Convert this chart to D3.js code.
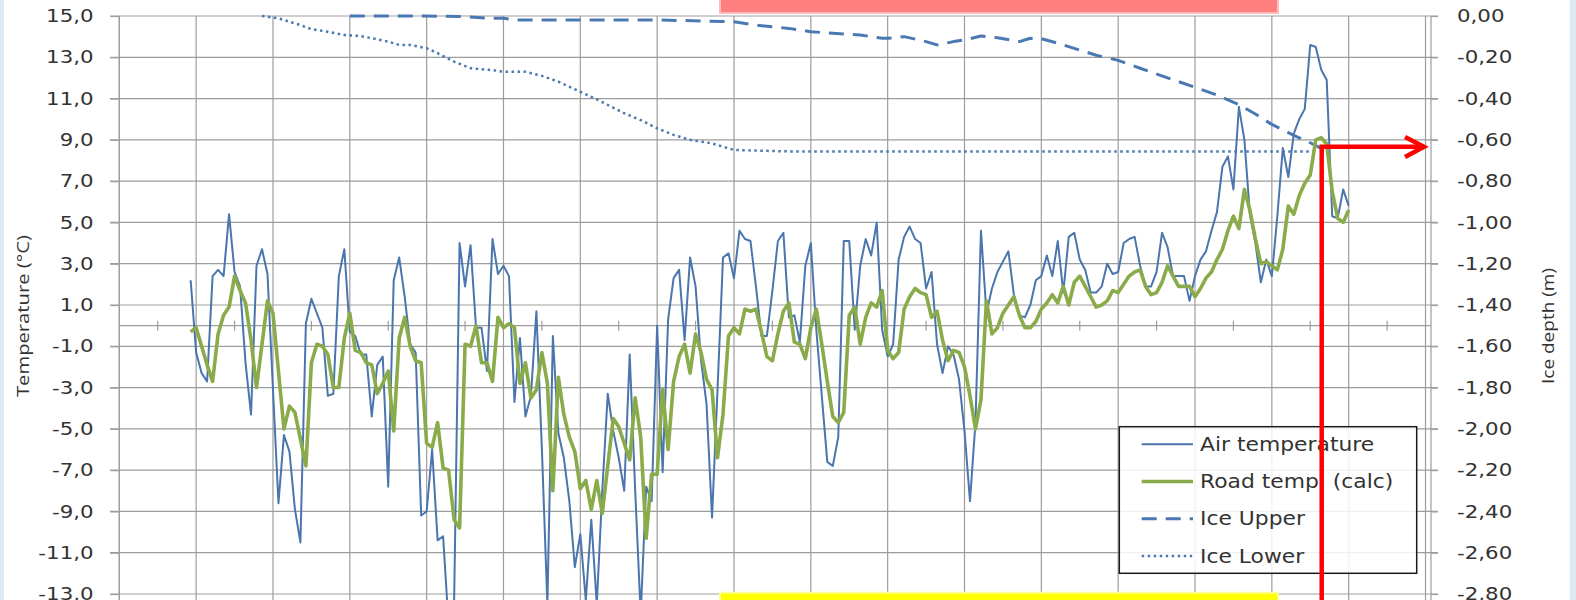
<!DOCTYPE html>
<html lang="en">
	<head>
		<meta charset="utf-8">
		<title>D3: Air and road temperature with ice depth</title>
		<script src="https://d3js.org/d3.v7.min.js" charset="utf-8"></script>
		<style type="text/css">

			body {
				margin: 0;
				background: #dceaf6;
			}

			svg {
				display: block;
			}

			svg text {
				font-family: "DejaVu Sans", sans-serif;
				fill: #333333;
			}

			.grid {
				stroke: #9d9d9d;
				stroke-width: 1.2;
			}

			.axis path,
			.axis line {
				stroke: #9d9d9d;
				stroke-width: 1.2;
			}

			.line {
				fill: none;
				stroke-linejoin: round;
			}

			.air {
				stroke: #4a75ad;
				stroke-width: 2;
			}

			.road {
				stroke: #8aab4a;
				stroke-width: 3.6;
			}

			.upper {
				stroke: #4a78b2;
				stroke-width: 3;
				stroke-dasharray: 15, 9;
			}

			.lower {
				stroke: #4a78b2;
				stroke-width: 2.5;
				stroke-dasharray: 2.5, 3.5;
			}

		</style>
	</head>
	<body>
		<script type="text/javascript">

			//Width and height
			var w = 1576;
			var h = 600;

			//Daily values, first value is day 13
			var firstDay = 13;

			var airTemp = [
				2.2, -1.3, -2.3, -2.7, 2.4, 2.7, 2.4, 5.4, 2.6, 1.9,
				-1.8, -4.3, 2.9, 3.7, 2.5, -3.1, -8.6, -5.3, -6.1, -8.9,
				-10.5, 0.1, 1.3, 0.6, -0.1, -3.4, -3.3, 2.4, 3.7, -0.3,
				-0.5, -1.4, -1.4, -4.4, -1.9, -1.5, -7.8, 2.2, 3.3, 1.4,
				-0.9, -1.3, -9.2, -9.0, -6.0, -10.4, -10.2, -14.5, -13.5, 4.0,
				1.9, 3.9, -0.1, -0.1, -2.2, 4.2, 2.5, 2.9, 2.4, -3.7,
				-0.6, -4.4, -3.4, 0.7, -6.0, -13.5, -0.5, -5.2, -6.4, -8.5,
				-11.7, -10.1, -13.3, -9.4, -13.5, -8.0, -3.3, -5.1, -6.4, -8.0,
				-1.4, -8.0, -14.0, -7.8, -8.5, 0.0, -7.1, 0.3, 2.3, 2.7,
				-0.7, 3.3, 1.9, -1.7, -3.8, -9.3, -3.1, 3.3, 3.5, 2.3,
				4.6, 4.2, 4.1, 1.9, -0.5, -0.5, 1.7, 4.1, 4.5, 0.4,
				0.5, -0.8, 2.9, 4.0, -0.2, -3.4, -6.6, -6.8, -5.4, 4.1,
				4.1, -0.2, 2.9, 4.2, 3.4, 5.0, -0.2, -1.5, -0.9, 3.2,
				4.3, 4.8, 4.2, 4.0, 1.8, 2.6, -0.9, -2.3, -1.0, -1.4,
				-2.6, -5.1, -8.5, -4.7, 4.6, 0.6, 1.8, 2.6, 3.1, 3.6,
				1.5, 0.5, 0.4, 1.0, 2.2, 2.4, 3.4, 2.4, 4.1, 1.6,
				4.3, 4.5, 3.2, 2.7, 1.6, 1.6, 1.9, 3.0, 2.5, 2.6,
				4.0, 4.2, 4.3, 2.9, 1.9, 1.9, 2.6, 4.5, 3.8, 2.4,
				2.4, 2.4, 1.2, 2.4, 3.2, 3.6, 4.6, 5.5, 7.7, 8.2,
				6.6, 10.6, 9.0, 5.4, 4.0, 2.1, 3.2, 2.4, 5.3, 8.6,
				7.2, 9.3, 10.0, 10.5, 13.6, 13.5, 12.4, 11.9, 5.3, 5.2,
				6.6, 5.8
			];

			var roadTemp = [
				-0.3, -0.1, -1.0, -1.9, -2.7, -0.4, 0.5, 0.9, 2.4, 1.7,
				1.1, -0.7, -3.0, -0.9, 1.2, 0.6, -2.2, -5.0, -3.9, -4.2,
				-5.5, -6.8, -1.8, -0.9, -1.0, -1.4, -3.0, -3.0, -0.6, 0.6,
				-1.2, -1.3, -1.8, -1.9, -3.3, -2.8, -2.2, -5.1, -0.6, 0.4,
				-1.0, -1.7, -1.8, -5.7, -5.9, -4.7, -6.9, -7.0, -9.4, -9.8,
				-0.9, -1.0, 0.0, -1.8, -1.8, -2.7, 0.4, -0.1, 0.1, -0.1,
				-2.8, -1.8, -3.5, -3.1, -1.3, -2.8, -8.0, -2.5, -4.3, -5.4,
				-6.1, -7.9, -7.5, -8.9, -7.5, -9.1, -6.8, -4.5, -4.9, -5.7,
				-6.5, -3.5, -5.4, -10.3, -7.2, -7.2, -3.1, -6.0, -2.7, -1.5,
				-0.9, -2.3, -0.4, -1.3, -2.6, -3.1, -6.4, -4.3, -0.5, -0.1,
				-0.4, 0.8, 0.7, 0.8, -0.3, -1.5, -1.7, -0.4, 0.7, 1.1,
				-0.8, -0.9, -1.6, -0.1, 0.8, -0.9, -2.7, -4.4, -4.7, -4.2,
				0.5, 0.9, -0.9, 0.4, 1.1, 0.9, 1.7, -1.2, -1.6, -1.3,
				0.8, 1.4, 1.8, 1.6, 1.5, 0.4, 0.7, -0.7, -1.7, -1.2,
				-1.3, -2.0, -3.4, -5.0, -3.6, 1.2, -0.4, -0.1, 0.6, 1.0,
				1.4, 0.5, -0.1, -0.1, 0.2, 0.8, 1.1, 1.5, 1.1, 1.9,
				1.0, 2.1, 2.4, 1.9, 1.4, 0.9, 1.0, 1.2, 1.7, 1.6,
				2.0, 2.4, 2.6, 2.7, 1.9, 1.5, 1.6, 2.1, 2.9, 2.4,
				1.9, 1.9, 1.9, 1.4, 1.8, 2.3, 2.6, 3.2, 3.7, 4.6,
				5.3, 4.7, 6.6, 5.6, 4.2, 3.0, 3.1, 2.9, 2.7, 3.7,
				5.8, 5.4, 6.3, 6.9, 7.3, 9.0, 9.1, 8.8, 6.5, 5.2,
				5.0, 5.6
			];

			//Ice depths (m), read at these days
			var iceUpperDays = [42, 50, 56, 63, 67, 70, 72, 84, 98, 112, 116, 122, 126, 130, 135, 139, 140, 143, 147, 149,
				152, 154, 157, 160, 164, 166, 168, 171, 175, 178, 182, 186, 191, 196, 200, 204, 207, 210, 214, 217, 219];
			var iceUpper = [0, 0, 0, -0.003, -0.011, -0.011, -0.019, -0.019, -0.019, -0.028, -0.044, -0.06, -0.076, -0.084, -0.092, -0.108, -0.108, -0.1, -0.124, -0.14,
				-0.124, -0.116, -0.097, -0.105, -0.124, -0.108, -0.11, -0.132, -0.165, -0.19, -0.215, -0.253, -0.3, -0.345, -0.383, -0.43, -0.475, -0.525, -0.578, -0.614, -0.641];

			var iceLowerDays = [26, 29, 31, 33, 35, 38, 41, 44, 46, 49, 51, 53, 56, 58, 61, 64, 68, 70, 74, 77,
				80, 84, 87, 92, 95, 98, 101, 104, 108, 112, 116, 122, 150, 180, 218];
			var iceLower = [0, -0.011, -0.028, -0.044, -0.064, -0.076, -0.092, -0.097, -0.108, -0.124, -0.14, -0.14, -0.156, -0.18, -0.221, -0.253, -0.262, -0.27, -0.27, -0.29,
				-0.318, -0.367, -0.404, -0.471, -0.504, -0.544, -0.576, -0.6, -0.617, -0.649, -0.652, -0.656, -0.656, -0.656, -0.656];

			//Axis ticks
			var tempTicks = [15, 13, 11, 9, 7, 5, 3, 1, -1, -3, -5, -7, -9, -11, -13];
			var depthTicks = [0, -0.2, -0.4, -0.6, -0.8, -1.0, -1.2, -1.4, -1.6, -1.8, -2.0, -2.2, -2.4, -2.6, -2.8];

			var legendLabels = ["Air temperature", "Road temp. (calc)", "Ice Upper", "Ice Lower"];
			var legendClasses = ["air", "road", "upper", "lower"];

			//Rows for the line generators
			var airData = airTemp.map(function(t, i) { return { day: firstDay + i, value: t }; });
			var roadData = roadTemp.map(function(t, i) { return { day: firstDay + i, value: t }; });
			var upperData = iceUpperDays.map(function(d, i) { return { day: d, value: iceUpper[i] }; });
			var lowerData = iceLowerDays.map(function(d, i) { return { day: d, value: iceLower[i] }; });

			//Create scale functions
			var xScale = d3.scaleLinear()
						.domain([0, 239])
						.range([119.3, 1431]);

			var yScale = d3.scaleLinear()
						.domain([-13, 15])
						.range([594, 16]);

			var y2Scale = d3.scaleLinear()
						.domain([-2.8, 0])
						.range([594, 16]);

			//Create SVG element
			var svg = d3.select("body")
						.append("svg")
						.attr("width", w)
						.attr("height", h);

			//White page, light blue edges show at the sides
			svg.append("rect")
				.attr("x", 4)
				.attr("y", 0)
				.attr("width", 1566)
				.attr("height", h)
				.style("fill", "white");

			//Vertical gridlines every 14 days
			svg.append("g")
				.selectAll("line")
				.data(d3.range(0, 239, 14))
				.enter()
				.append("line")
				.attr("class", "grid")
				.attr("x1", function(d) { return xScale(d); })
				.attr("x2", function(d) { return xScale(d); })
				.attr("y1", yScale(15))
				.attr("y2", h);

			//Horizontal gridlines
			svg.append("g")
				.selectAll("line")
				.data(tempTicks)
				.enter()
				.append("line")
				.attr("class", "grid")
				.attr("x1", 110)
				.attr("x2", 1438)
				.attr("y1", function(d) { return yScale(d); })
				.attr("y2", function(d) { return yScale(d); });

			//Define Y axes
			var yAxis = d3.axisLeft()
						.scale(yScale)
						.tickValues(tempTicks)
						.tickSizeInner(9)
						.tickSizeOuter(0)
						.tickFormat(function(d) { return d.toFixed(1).replace(".", ","); });

			var y2Axis = d3.axisRight()
						.scale(y2Scale)
						.tickValues(depthTicks)
						.tickSizeInner(7)
						.tickSizeOuter(0)
						.tickFormat(function(d) { return d.toFixed(2).replace(".", ","); });

			var gy = svg.append("g")
				.attr("class", "axis")
				.attr("transform", "translate(" + xScale(0) + ",0)")
				.call(yAxis);

			gy.select(".domain").attr("d", "M0,16V" + h);

			gy.selectAll("text")
				.attr("x", 0)
				.attr("transform", "translate(-25.7,0) scale(1.22,1)")
				.style("font-size", "17.5px")
				.style("fill", "#333333");

			var gy2 = svg.append("g")
				.attr("class", "axis")
				.attr("transform", "translate(" + xScale(239) + ",0)")
				.call(y2Axis);

			gy2.select(".domain").attr("d", "M0,16V" + h);

			gy2.selectAll("text")
				.attr("x", 0)
				.attr("transform", "translate(26,0) scale(1.22,1)")
				.style("font-size", "17.5px")
				.style("fill", "#333333");

			//X axis crosses at 0 degrees
			var y0 = yScale(0);

			svg.append("line")
				.attr("class", "grid")
				.attr("x1", xScale(0))
				.attr("x2", xScale(239))
				.attr("y1", y0)
				.attr("y2", y0);

			svg.append("g")
				.selectAll("line")
				.data(d3.range(7, 239, 14))
				.enter()
				.append("line")
				.attr("class", "grid")
				.attr("x1", function(d) { return xScale(d); })
				.attr("x2", function(d) { return xScale(d); })
				.attr("y1", y0 - 5)
				.attr("y2", y0 + 5);

			//Axis titles
			svg.append("text")
				.attr("transform", "translate(29,316) rotate(-90)")
				.attr("text-anchor", "middle")
				.attr("textLength", 162)
				.attr("lengthAdjust", "spacingAndGlyphs")
				.style("font-family", "'Open Sans', sans-serif")
				.style("font-size", "17px")
				.text("Temperature (°C)");

			svg.append("text")
				.attr("transform", "translate(1554,326) rotate(-90)")
				.attr("text-anchor", "middle")
				.attr("textLength", 116)
				.attr("lengthAdjust", "spacingAndGlyphs")
				.style("font-family", "'Open Sans', sans-serif")
				.style("font-size", "17px")
				.text("Ice depth (m)");

			//Define line generators
			var line = d3.line()
						.x(function(d) { return xScale(d.day); })
						.y(function(d) { return yScale(d.value); });

			var depthLine = d3.line()
						.x(function(d) { return xScale(d.day); })
						.y(function(d) { return y2Scale(d.value); });

			//Create lines
			svg.append("path")
				.datum(lowerData)
				.attr("class", "line lower")
				.attr("d", depthLine);

			svg.append("path")
				.datum(upperData)
				.attr("class", "line upper")
				.attr("d", depthLine);

			svg.append("path")
				.datum(airData)
				.attr("class", "line air")
				.attr("d", line);

			svg.append("path")
				.datum(roadData)
				.attr("class", "line road")
				.attr("d", line);

			//Legend
			var legend = svg.append("g")
				.attr("transform", "translate(1119.3,426.7)");

			legend.append("rect")
				.attr("width", 297.4)
				.attr("height", 146.6)
				.style("fill", "white")
				.style("fill-opacity", 0.85)
				.style("stroke", "#1a1a1a")
				.style("stroke-width", 1.5);

			var item = legend.selectAll(".item")
				.data(legendLabels)
				.enter()
				.append("g")
				.attr("class", "item")
				.attr("transform", function(d, i) { return "translate(0," + (17.6 + i * 37.2) + ")"; });

			item.append("line")
				.attr("class", function(d, i) { return "line " + legendClasses[i]; })
				.attr("x1", 22.4)
				.attr("x2", 73.7)
				.attr("y1", 0)
				.attr("y2", 0);

			item.append("text")
				.attr("transform", "translate(80.7,6.6) scale(1.15,1)")
				.style("font-size", "19px")
				.text(function(d) { return d; });

			//Red marker arrow
			svg.append("path")
				.attr("d", "M1321.7,600V146.7H1422")
				.style("fill", "none")
				.style("stroke", "#ff0000")
				.style("stroke-width", 4.5);

			svg.append("path")
				.attr("d", "M1405,137L1424,146.7L1405,157")
				.style("fill", "none")
				.style("stroke", "#ff0000")
				.style("stroke-width", 4.5);

			//Highlight boxes at the top and bottom edges
			svg.append("rect")
				.attr("x", 720)
				.attr("y", -3)
				.attr("width", 558)
				.attr("height", 16)
				.style("fill", "#ff7f7f")
				.style("stroke", "#ffbcbc")
				.style("stroke-width", 2);

			svg.append("rect")
				.attr("x", 720)
				.attr("y", 592.7)
				.attr("width", 558)
				.attr("height", 12)
				.style("fill", "#ffff00")
				.style("stroke", "#ffff9a")
				.style("stroke-width", 2);

		</script>
	</body>
</html>
